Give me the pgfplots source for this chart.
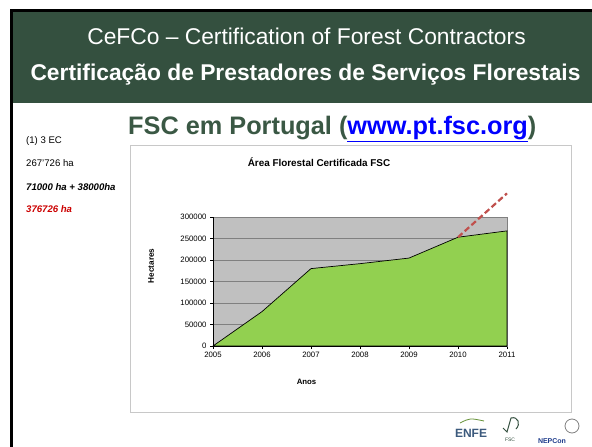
\documentclass[border=0pt]{standalone}
\usepackage{pgfplots}
\pgfplotsset{compat=1.18}
\usepackage{fontspec}
\setmainfont{Liberation Sans}

\definecolor{slidegreen}{RGB}{52,80,63}
\definecolor{titlegreen}{RGB}{58,88,68}
\definecolor{areagreen}{RGB}{146,208,80}
\definecolor{plotgray}{RGB}{192,192,192}
\definecolor{gridgray}{RGB}{128,128,128}
\definecolor{boxgray}{RGB}{200,200,200}
\definecolor{dashred}{RGB}{192,80,77}
\definecolor{linkblue}{RGB}{0,0,255}
\definecolor{hred}{RGB}{204,0,0}

\begin{document}
\begin{tikzpicture}
% slide background and header
\fill[white] (0pt,0pt) rectangle (592pt,-447pt);
\fill[slidegreen] (13pt,-12pt) rectangle (592pt,-103pt);
\fill[black] (10pt,-9pt) rectangle (592pt,-12pt);
\fill[black] (10pt,-9pt) rectangle (13pt,-447pt);

\node[anchor=base, white, font=\fontsize{22.8}{26}\selectfont] at (306.5pt,-45pt)
  {CeFCo – Certification of Forest Contractors};
\node[anchor=base, white, font=\bfseries\fontsize{22.8}{26}\selectfont] at (305.5pt,-80pt)
  {Certificação de Prestadores de Serviços Florestais};

\node[anchor=base west, inner sep=0pt, titlegreen, font=\bfseries\fontsize{25.3}{28}\selectfont] at (128pt,-134pt)
  {FSC em Portugal (\textcolor{linkblue}{\underline{www.pt.fsc.org}})};

% notes on the left
\begin{scope}[every node/.style={anchor=base west, inner sep=0pt, font=\fontsize{9.6}{11}\selectfont}]
\node at (26pt,-143pt) {(1) 3 EC};
\node at (26pt,-166.5pt) {267'726 ha};
\node[font=\bfseries\itshape\fontsize{9.6}{11}\selectfont] at (26pt,-190.5pt) {71000 ha + 38000ha};
\node[hred, font=\bfseries\itshape\fontsize{9.6}{11}\selectfont] at (26pt,-212.7pt) {376726 ha};
\end{scope}

% chart frame
\draw[boxgray, line width=0.8pt] (130pt,-145pt) rectangle (571pt,-412pt);
\node[anchor=base, font=\bfseries\fontsize{9.9}{11}\selectfont] at (319pt,-166pt) {Área Florestal Certificada FSC};
\node[rotate=90, font=\bfseries\fontsize{8.2}{10}\selectfont] at (151pt,-266pt) {Hectares};
\node[font=\bfseries\fontsize{7.8}{9}\selectfont] at (306.5pt,-382.3pt) {Anos};

\begin{axis}[
  at={(213pt,-346pt)}, anchor=south west,
  scale only axis, width=294pt, height=129pt,
  xmin=2005, xmax=2011, ymin=0, ymax=300000,
  xtick={2005,2006,...,2011},
  ytick={0,50000,...,300000},
  scaled y ticks=false,
  xticklabel style={/pgf/number format/1000 sep={}},
  yticklabel style={/pgf/number format/fixed, /pgf/number format/1000 sep={}},
  /pgf/number format/assume math mode=true,
  tick label style={font=\fontsize{7.8}{9}\selectfont},
  axis background/.style={fill=plotgray},
  ymajorgrids, grid style={gridgray, line width=0.6pt},
  axis line style={gridgray, line width=0.6pt},
  tick style={black, line width=0.6pt},
  tick align=outside, major tick length=3pt,
  xtick pos=bottom, ytick pos=left,
  clip=false,
]
\addplot[fill=areagreen, draw=black, line width=0.7pt] coordinates {
  (2005,0) (2006,80000) (2007,180000) (2008,191500)
  (2009,204500) (2010,253000) (2011,267726)
} \closedcycle;
\addplot[dashred, line width=2.2pt, dash pattern=on 6pt off 3pt] coordinates {
  (2010,253000) (2011,355000)
};
\draw[black, line width=1pt] (rel axis cs:0,0) -- (rel axis cs:1,0);
\draw[black, line width=0.6pt] (rel axis cs:0,0) -- (rel axis cs:0,1);
\end{axis}

% logos at the bottom right
\node[font=\bfseries\fontsize{12}{14}\selectfont, text={rgb,255:red,60;green,90;blue,125}] at (471pt,-433pt) {ENFE};
\draw[areagreen!70!black, line width=0.8pt] (460pt,-423pt) .. controls (470pt,-418pt) .. (484pt,-421pt);
\draw[slidegreen, line width=1pt] (503pt,-428pt) -- (507pt,-432pt) -- (511pt,-418pt) .. controls (518pt,-416pt) and (521pt,-424pt) .. (516pt,-429pt);
\node[font=\fontsize{5}{6}\selectfont, slidegreen] at (510pt,-440pt) {FSC};
\node[font=\bfseries\fontsize{7}{8}\selectfont, text={rgb,255:red,30;green,60;blue,140}] at (552pt,-441pt) {NEPCon};
\draw[gray, line width=0.8pt] (572pt,-426pt) circle (7pt);
\end{tikzpicture}
\end{document}
